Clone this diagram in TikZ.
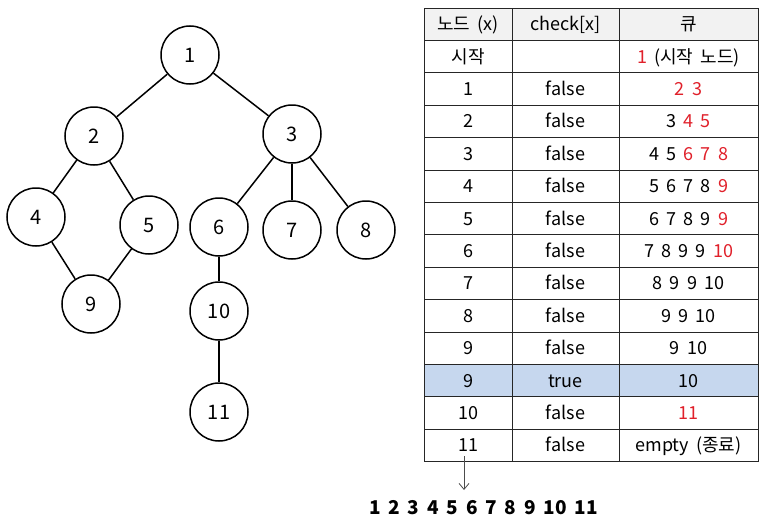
\documentclass[tikz,border=0pt]{standalone}
\usepackage{fontspec}
\setmainfont[WordSpace=1.8]{Noto Sans CJK KR}
\usetikzlibrary{arrows.meta}
\definecolor{qred}{HTML}{E0202A}
\definecolor{hdrgray}{HTML}{F2F2F2}
\definecolor{hlblue}{HTML}{C6D7EE}
\newcommand\rd[1]{\textcolor{qred}{#1}}
\tikzset{
  tnode/.style={circle, draw, line width=1.5pt, minimum size=58pt, inner sep=0pt, font=\fontsize{20}{20}\selectfont},
  tedge/.style={line width=1.5pt},
  cell/.style={inner sep=0pt, font=\fontsize{18}{18}\selectfont, anchor=base},
  grid/.style={line width=0.8pt, black!85},
}
\begin{document}
\begin{tikzpicture}[x=1pt,y=-1pt]
\useasboundingbox (0,0) rectangle (763,522);
% tree
\node[tnode] (n1) at (190,55) {1};
\node[tnode] (n2) at (94,136) {2};
\node[tnode] (n3) at (292,134) {3};
\node[tnode] (n4) at (36,217) {4};
\node[tnode] (n5) at (149,225) {5};
\node[tnode] (n6) at (219,227) {6};
\node[tnode] (n7) at (292,230) {7};
\node[tnode] (n8) at (366,230) {8};
\node[tnode] (n9) at (91,304) {9};
\node[tnode] (n10) at (219,311) {10};
\node[tnode] (n11) at (219,412) {11};
\foreach \a/\b in {n1/n2,n1/n3,n2/n4,n2/n5,n4/n9,n5/n9,n3/n6,n3/n7,n3/n8,n6/n10,n10/n11}
  \draw[tedge] (\a) -- (\b);
% table backgrounds
\fill[hdrgray] (424,8) rectangle (758,40.4);
\fill[hlblue] (424,364.4) rectangle (758,396.8);
% grid
\foreach \i in {0,...,14}
  \draw[grid] (424,8+32.4*\i) -- (758,8+32.4*\i);
\foreach \x in {424,512,619,758}
  \draw[grid] (\x,8) -- (\x,461.6);
% cells
\foreach \a/\b/\c [count=\i from 0] in {
  노드 (x)/check[x]/큐,
  시작/{}/{\rd{1} (시작 노드)},
  1/false/{\rd{2 3}},
  2/false/{3 \rd{4 5}},
  3/false/{4 5 \rd{6 7 8}},
  4/false/{5 6 7 8 \rd{9}},
  5/false/{6 7 8 9 \rd{9}},
  6/false/{7 8 9 9 \rd{10}},
  7/false/{8 9 9 10},
  8/false/{9 9 10},
  9/false/{9 10},
  9/true/{10},
  10/false/{\rd{11}},
  11/false/{empty (종료)}}
{
  \node[cell] (r\i c1) at (468,8+32.4*\i+22.6) {\a};
  \node[cell] (r\i c2) at (565.5,8+32.4*\i+22.6) {\b};
  \node[cell] (r\i c3) at (688.5,8+32.4*\i+22.6) {\c};
}
% arrow and result
\coordinate (arrS) at (464,456);
\coordinate (arrE) at (464,490);
\draw[line width=0.8pt, black!70, -{Straight Barb[length=6pt,width=10pt]}] (arrS) -- (arrE);
\node[inner sep=0pt, font=\fontsize{19}{19}\selectfont\bfseries] (res) at (483.5,508) {1 2 3 4 5 6 7 8 9 10 11};
\end{tikzpicture}
\end{document}
